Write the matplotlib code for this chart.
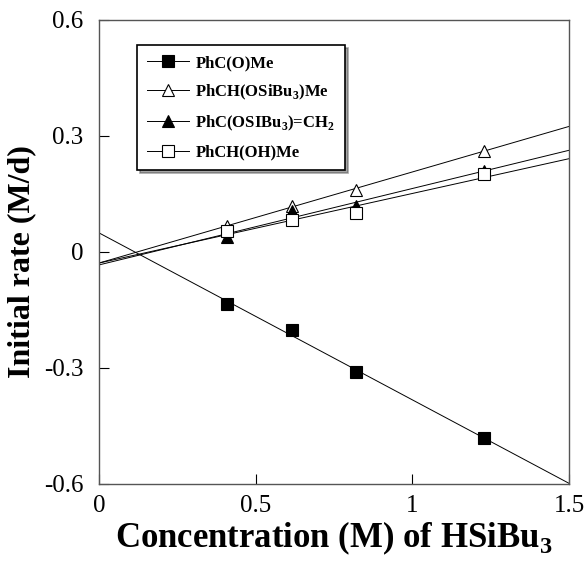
import numpy as np
import matplotlib
matplotlib.use("Agg")
import matplotlib.pyplot as plt

# data
conc = [0.41, 0.615, 0.82, 1.23]
rate_ketone = [-0.135, -0.202, -0.311, -0.482]      # PhC(O)Me
rate_silylether = [0.067, 0.120, 0.161, 0.262]      # PhCH(OSiBu3)Me
rate_enolether = [0.039, 0.106, 0.119, 0.210]       # PhC(OSiBu3)=CH2
rate_alcohol = [0.054, 0.083, 0.100, 0.202]         # PhCH(OH)Me

labels = [r"PhC(O)Me",
          r"PhCH(OSiBu$_\mathbf{3}$)Me",
          r"PhC(OSIBu$_\mathbf{3}$)=CH$_\mathbf{2}$",
          r"PhCH(OH)Me"]

xticks = [0, 0.5, 1, 1.5]
yticks = [-0.6, -0.3, 0, 0.3, 0.6]

plt.rcParams['font.family'] = ['Liberation Serif', 'DejaVu Serif']
plt.rcParams['mathtext.fontset'] = 'custom'
plt.rcParams['mathtext.rm'] = 'Liberation Serif'
plt.rcParams['mathtext.bf'] = 'Liberation Serif:bold'

fig = plt.figure(figsize=(5.87, 5.62), dpi=100)
ax = fig.add_axes([99 / 587, 1 - 484 / 562, 470 / 587, 464 / 562])

series = [
    (rate_ketone, dict(marker='s', mfc='black', mec='black', ms=8)),
    (rate_silylether, dict(marker='^', mfc='white', mec='black', ms=9)),
    (rate_enolether, dict(marker='^', mfc='black', mec='black', ms=8)),
    (rate_alcohol, dict(marker='s', mfc='white', mec='black', ms=8)),
]

xfit = np.array([0, 1.5])
for (vals, style), lab in zip(series, labels):
    k, b = np.polyfit(conc, vals, 1)
    ax.plot(xfit, k * xfit + b, color='black', lw=0.7, zorder=2)
    ax.plot(conc, vals, linestyle='none', mew=0.8, zorder=3, **style)
    # legend proxy
    ax.plot([], [], color='black', lw=0.7, mew=0.8, label=lab, **style)

ax.set_xlim(0, 1.5)
ax.set_ylim(-0.6, 0.6)
ax.set_xticks(xticks)
ax.set_xticklabels(['0', '0.5', '1', '1.5'])
ax.set_yticks(yticks)
ax.set_yticklabels(['-0.6', '-0.3', '0', '0.3', '0.6'])
ax.tick_params(direction='in', length=7, width=0.8, labelsize=18, pad=11)
ax.tick_params(axis='x', pad=8)
for s in ax.spines.values():
    s.set_color('#555555')
    s.set_linewidth(1.0)

ax.set_xlabel(r"Concentration (M) of HSiBu$_\mathbf{3}$", fontsize=25,
              fontweight='bold', labelpad=2)
ax.set_ylabel("Initial rate (M/d)", fontsize=23, fontweight='bold')
ax.yaxis.set_label_coords(-0.133, 0.48)

leg = ax.legend(loc='upper left', bbox_to_anchor=(0.081, 0.946),
                prop={'weight': 'bold', 'size': 12}, frameon=True, fancybox=False,
                shadow=True, edgecolor='black', handlelength=2.5,
                labelspacing=0.7, borderpad=0.6, borderaxespad=0,
                handletextpad=0.4)
leg.get_frame().set_linewidth(1.2)

fig.savefig('out.png', dpi=100)
